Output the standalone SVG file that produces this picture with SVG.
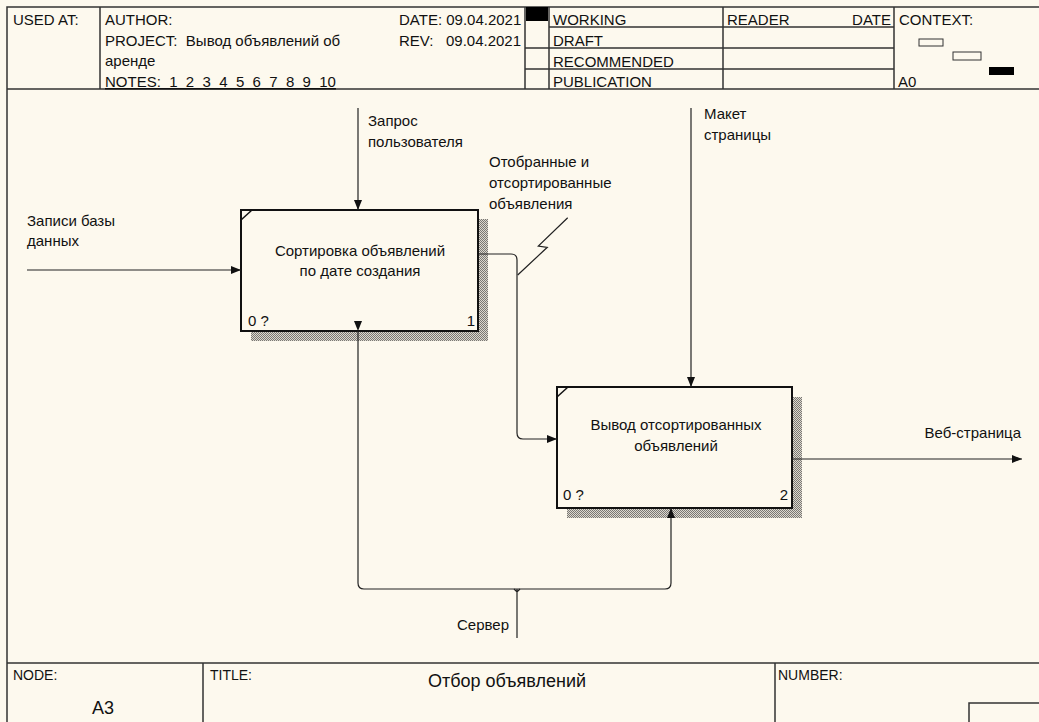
<svg xmlns="http://www.w3.org/2000/svg" width="1039" height="722" viewBox="0 0 1039 722">
<style>
text{font-family:"Liberation Sans",Arial,sans-serif;font-size:15px;fill:#111;white-space:pre}
.sm{font-size:14px}
.frame{stroke:#333;stroke-width:1.5;fill:none}
.box{fill:#fdf9ee;stroke:#111;stroke-width:2}
.conn{stroke:#222;stroke-width:1.2;fill:none}
.shadow{fill:url(#hatch)}
</style>
<defs>
<pattern id="hatch" width="2" height="2" patternUnits="userSpaceOnUse">
<rect width="2" height="2" fill="#dcd8ce"/>
<rect width="1" height="1" fill="#7a7874"/>
<rect x="1" y="1" width="1" height="1" fill="#7a7874"/>
</pattern>
<marker id="arr" viewBox="0 0 10 8" refX="10" refY="4" markerWidth="10" markerHeight="8" markerUnits="userSpaceOnUse" orient="auto">
<path d="M0,0 L10,4 L0,8 Z" fill="#111"/>
</marker>
</defs>
<rect width="1039" height="722" fill="#fdf9ee"/>
<g id="header">
<path class="frame" d="M7,722 V7 H1039 M7,89 H1039 M100,7 V89 M525,7 V89 M549,7 V89 M723,7 V89 M894,7 V89 M549,27 H894 M525,48 H894 M525,69 H894"/>
<rect x="526" y="7" width="22" height="14" fill="#000"/>
<text x="13" y="25">USED AT:</text>
<text x="105" y="25">AUTHOR:</text>
<text x="105" y="46">PROJECT:  Вывод объявлений об</text>
<text x="105" y="66">аренде</text>
<text x="105" y="87" text-decoration="underline">NOTES:  1  2  3  4  5  6  7  8  9  10</text>
<text x="399" y="25">DATE: 09.04.2021</text>
<text x="399" y="46">REV:   09.04.2021</text>
<text x="553" y="25">WORKING</text>
<text x="553" y="46">DRAFT</text>
<text x="553" y="67">RECOMMENDED</text>
<text x="553" y="87">PUBLICATION</text>
<text x="727" y="25">READER</text>
<text x="891" y="25" text-anchor="end">DATE</text>
<text x="899" y="25">CONTEXT:</text>
<rect x="919" y="39" width="24" height="7" fill="none" stroke="#333"/>
<rect x="953" y="52" width="28" height="8" fill="none" stroke="#333"/>
<rect x="989" y="67" width="25" height="8" fill="#000"/>
<text x="898" y="87">A0</text>
</g>
<g id="footer">
<path class="frame" d="M7,663 H1039 M203,663 V722 M775,663 V722 M969,722 V703 H1039"/>
<text class="sm" x="13" y="680">NODE:</text>
<text x="92" y="714" style="font-size:18px">A3</text>
<text class="sm" x="210" y="680">TITLE:</text>
<text x="507" y="687" text-anchor="middle" style="font-size:18px">Отбор объявлений</text>
<text class="sm" x="778" y="680">NUMBER:</text>
</g>
<g id="node1">
<rect class="shadow" x="478" y="219" width="10" height="121"/>
<rect class="shadow" x="251" y="331" width="237" height="10"/>
<rect class="box" x="241" y="210" width="237" height="121"/>
<line x1="241" y1="220" x2="252" y2="210" stroke="#111" stroke-width="1.5"/>
<text x="360" y="256" text-anchor="middle">Сортировка объявлений</text>
<text x="360" y="276" text-anchor="middle">по дате создания</text>
<text x="248" y="326">0 ?</text>
<text x="475" y="326" text-anchor="end">1</text>
</g>
<g id="node2">
<rect class="shadow" x="792" y="397" width="10" height="121"/>
<rect class="shadow" x="567" y="508" width="235" height="10"/>
<rect class="box" x="557" y="387" width="235" height="121"/>
<line x1="557" y1="397" x2="568" y2="387" stroke="#111" stroke-width="1.5"/>
<text x="676" y="430" text-anchor="middle">Вывод отсортированных</text>
<text x="676" y="451" text-anchor="middle">объявлений</text>
<text x="563" y="500">0 ?</text>
<text x="788" y="500" text-anchor="end">2</text>
</g>
<g id="connectors">
<line class="conn" x1="27" y1="270" x2="241" y2="270" marker-end="url(#arr)"/>
<line class="conn" x1="358" y1="108" x2="358" y2="210" marker-end="url(#arr)"/>
<path class="conn" d="M479,254 H511 Q517,254 517,260 V433 Q517,439 523,439 H557" marker-end="url(#arr)"/>
<polyline class="conn" points="517.7,275 547.3,247.3 538.3,246 567.7,217.7"/>
<line class="conn" x1="691" y1="108" x2="691" y2="387" marker-end="url(#arr)"/>
<line class="conn" x1="792" y1="459" x2="1022" y2="459" marker-end="url(#arr)"/>
<path class="conn" d="M358,331 V583 Q358,589 364,589 H665 Q671,589 671,583 V508" marker-start="url(#arr)" marker-end="url(#arr)"/>
<path class="conn" d="M517,638 V589 M514,589 L517,592 L520,589"/>
</g>
<g id="labels">
<text x="27" y="226">Записи базы</text>
<text x="27" y="246">данных</text>
<text x="368" y="126">Запрос</text>
<text x="368" y="147">пользователя</text>
<text x="489" y="167">Отобранные и</text>
<text x="489" y="188">отсортированные</text>
<text x="489" y="209">объявления</text>
<text x="704" y="119">Макет</text>
<text x="704" y="140">страницы</text>
<text x="1021" y="438" text-anchor="end">Веб-страница</text>
<text x="509" y="630" text-anchor="end">Сервер</text>
</g>
</svg>
